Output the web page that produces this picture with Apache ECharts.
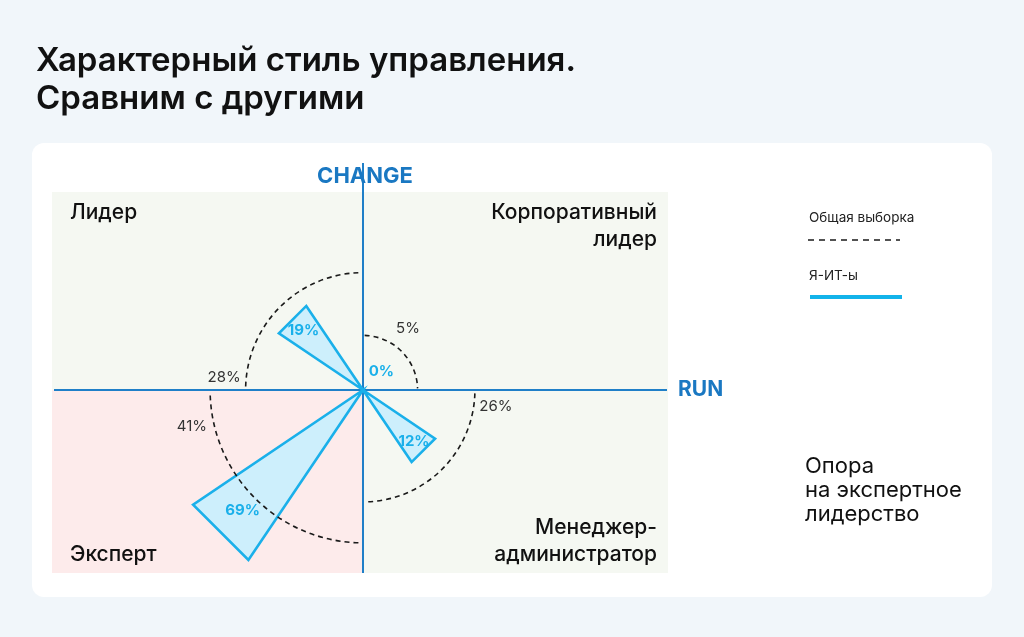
<!DOCTYPE html>
<html>
<head>
<meta charset="utf-8">
<script src="https://cdn.jsdelivr.net/npm/echarts@6/dist/echarts.min.js"></script>
<style>
html,body{margin:0;padding:0;background:#f1f6fa;}
#c{width:1024px;height:637px;}
</style>
</head>
<body>
<div id="c"></div>
<script>
// ---- data ----
const quadrants = ['Лидер', 'Корпоративный\nлидер', 'Менеджер-\nадминистратор', 'Эксперт'];
const overallSample = [28, 5, 26, 41];   // Общая выборка (dashed arcs)
const itSample = [19, 0, 12, 69];        // Я-ИТ-ы (triangles)
const seriesNames = ['Общая выборка', 'Я-ИТ-ы'];
const axisNames = ['CHANGE', 'RUN'];
const titleLines = ['Характерный стиль управления.', 'Сравним с другими'];
const noteLines = ['Опора', 'на экспертное', 'лидерство'];

// ---- layout / style ----
const CX = 363, CY = 390;
const AXIS_BLUE = '#1f7fc8';
const TRI_BLUE = '#1ab0ea';
const FONT = 'Inter, "Noto Sans", sans-serif';
const arcLabelAngle = [175, 54, -7, 192];
const D2R = Math.PI / 180;

function txt(s, fill, font, align, vAlign, extra) {
  const st = { text: s, fill: fill, font: font, align: align, verticalAlign: vAlign, textAlign: align, textVerticalAlign: vAlign };
  if (extra) Object.keys(extra).forEach(function (k) { st[k] = extra[k]; });
  return st;
}

function arcItem(params, api) {
  const v = api.value(0), ci = api.value(1);
  const p = api.coord([v, ci]);
  const r = p[2], th = p[3];
  const half = api.size([0, ci])[1] / 2;
  const cs = params.coordSys;
  const gap = 0.03;
  const la = arcLabelAngle[ci] * D2R;
  const lr = r + 22;
  return {
    type: 'group',
    children: [
      {
        type: 'arc',
        shape: { cx: cs.cx, cy: cs.cy, r: r, startAngle: -(th + half) + gap, endAngle: -(th - half) - gap, clockwise: true },
        style: { stroke: '#1a1a1a', lineWidth: 1.6, lineDash: [5, 4], fill: null }
      },
      {
        type: 'text',
        x: cs.cx + lr * Math.cos(la), y: cs.cy - lr * Math.sin(la),
        style: txt(v + '%', '#333', '400 15px ' + FONT, 'center', 'middle')
      }
    ]
  };
}

function triItem(params, api) {
  const v = api.value(0), ci = api.value(1);
  const p = api.coord([v, ci]);
  const r = p[2], th = p[3];
  const w = 11 * D2R;
  const cs = params.coordSys;
  const children = [];
  if (v > 0) {
    children.push({
      type: 'polygon',
      shape: { points: [
        [cs.cx, cs.cy],
        [cs.cx + r * Math.cos(th + w), cs.cy - r * Math.sin(th + w)],
        [cs.cx + r * Math.cos(th - w), cs.cy - r * Math.sin(th - w)]
      ] },
      style: { fill: '#cdeffc', stroke: TRI_BLUE, lineWidth: 2.6, lineJoin: 'miter' }
    });
  }
  const lr = v > 0 ? r * 0.83 : 26;
  children.push({
    type: 'text',
    x: cs.cx + lr * Math.cos(th), y: cs.cy - lr * Math.sin(th),
    style: txt(v + '%', TRI_BLUE, '700 15px ' + FONT, 'center', 'middle')
  });
  return { type: 'group', children: children };
}

// anchor: y of first line centre (top labels) / last line centre (bottom labels)
const quadLabelPos = [
  { x: 70, y: 213, align: 'left', fromTop: true },
  { x: 657, y: 213, align: 'right', fromTop: true },
  { x: 657, y: 555, align: 'right', fromTop: false },
  { x: 70, y: 555, align: 'left', fromTop: false }
];
const QLH = 27;

const graphics = [
  { type: 'rect', shape: { x: 32, y: 143, width: 960, height: 454, r: 12 }, style: { fill: '#ffffff' }, z: -20 },
  { type: 'rect', shape: { x: 52, y: 192, width: 311, height: 198 }, style: { fill: '#f5f8f2' }, z: -10 },
  { type: 'rect', shape: { x: 363, y: 192, width: 305, height: 198 }, style: { fill: '#f5f8f2' }, z: -10 },
  { type: 'rect', shape: { x: 363, y: 390, width: 305, height: 183 }, style: { fill: '#f5f8f2' }, z: -10 },
  { type: 'rect', shape: { x: 52, y: 390, width: 311, height: 183 }, style: { fill: '#fdebeb' }, z: -10 },
  { type: 'line', shape: { x1: CX, y1: 163, x2: CX, y2: 573 }, style: { stroke: AXIS_BLUE, lineWidth: 2 }, z: -5 },
  { type: 'line', shape: { x1: 54, y1: CY, x2: 667, y2: CY }, style: { stroke: AXIS_BLUE, lineWidth: 2 }, z: -5 },
  { type: 'text', x: 365, y: 176, style: txt(axisNames[0], '#1a78c2', '700 22px ' + FONT, 'center', 'middle') },
  { type: 'text', x: 678, y: 390, style: txt(axisNames[1], '#1a78c2', '700 21px ' + FONT, 'left', 'middle') },
  // legend
  { type: 'text', x: 809, y: 218, style: txt(seriesNames[0], '#222', '400 13.5px ' + FONT, 'left', 'middle') },
  { type: 'line', shape: { x1: 808, y1: 240, x2: 900, y2: 240 }, style: { stroke: '#1a1a1a', lineWidth: 1.6, lineDash: [6, 5] } },
  { type: 'text', x: 809, y: 276, style: txt(seriesNames[1], '#222', '400 13.5px ' + FONT, 'left', 'middle') },
  { type: 'line', shape: { x1: 810, y1: 297, x2: 902, y2: 297 }, style: { stroke: '#12b3ea', lineWidth: 4 } },
  { type: 'text', x: 805, y: 490, style: txt(noteLines.join('\n'), '#111', '400 22px ' + FONT, 'left', 'middle', { lineHeight: 24 }) }
];

quadrants.forEach(function (q, i) {
  const pos = quadLabelPos[i];
  const n = q.split('\n').length;
  const firstCenter = pos.fromTop ? pos.y : pos.y - (n - 1) * QLH;
  graphics.push({
    type: 'text', x: pos.x, y: firstCenter - QLH / 2,
    style: txt(q, '#111', '500 21px ' + FONT, pos.align, 'top', { lineHeight: QLH })
  });
});

const chart = echarts.init(document.getElementById('c'));
chart.setOption({
  animation: false,
  backgroundColor: '#f1f6fa',
  title: {
    text: titleLines.join('\n'),
    left: 31, top: 37,
    textStyle: { fontFamily: FONT, fontSize: 33, fontWeight: 600, color: '#111', lineHeight: 38 }
  },
  polar: [
    { center: [CX, CY], radius: 273 },
    { center: [CX, CY], radius: 207 }
  ],
  angleAxis: [
    { polarIndex: 0, type: 'category', data: quadrants, startAngle: 180, clockwise: true, boundaryGap: true, show: false },
    { polarIndex: 1, type: 'category', data: quadrants, startAngle: 180, clockwise: true, boundaryGap: true, show: false }
  ],
  radiusAxis: [
    { polarIndex: 0, type: 'value', min: -15, max: 85, show: false },
    { polarIndex: 1, type: 'value', min: -30, max: 70, show: false }
  ],
  graphic: { elements: graphics },
  series: [
    { type: 'custom', name: seriesNames[1], coordinateSystem: 'polar', polarIndex: 1, data: itSample.map(function (v, i) { return [v, i]; }), renderItem: triItem, z: 3, silent: true },
    { type: 'custom', name: seriesNames[0], coordinateSystem: 'polar', polarIndex: 0, data: overallSample.map(function (v, i) { return [v, i]; }), renderItem: arcItem, z: 4, silent: true }
  ]
});
</script>
</body>
</html>
